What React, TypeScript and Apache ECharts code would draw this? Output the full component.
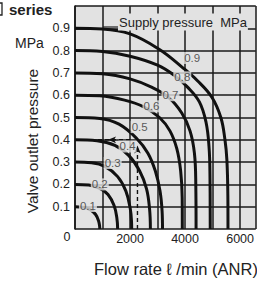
import React, { useEffect, useRef } from "react";
import * as echarts from "echarts";

const xLabelsShown = ["2000", "4000", "6000"];
const yLabelsShown = ["0.1", "0.2", "0.3", "0.4", "0.5", "0.6", "0.7", "0.8", "0.9"];
const supplyNames = ["0.1", "0.2", "0.3", "0.4", "0.5", "0.6", "0.7", "0.8", "0.9"];

const c01 = [[0, 0.1], [300, 0.098], [550, 0.087], [750, 0.065], [860, 0.035], [895, 0.012], [900, 0]];
const c02 = [[0, 0.2], [500, 0.197], [900, 0.182], [1200, 0.155], [1420, 0.105], [1520, 0.05], [1550, 0]];
const c03 = [[0, 0.3], [600, 0.297], [1100, 0.28], [1550, 0.235], [1850, 0.17], [2010, 0.09], [2055, 0.03], [2060, 0]];
const c04 = [[0, 0.4], [800, 0.396], [1450, 0.375], [1950, 0.33], [2350, 0.26], [2600, 0.18], [2710, 0.09], [2740, 0]];
const c05 = [[0, 0.5], [900, 0.496], [1600, 0.47], [2250, 0.405], [2650, 0.34], [2920, 0.26], [3090, 0.17], [3165, 0.08], [3180, 0]];
const c06 = [[0, 0.6], [900, 0.597], [1800, 0.578], [2500, 0.548], [3070, 0.5], [3450, 0.44], [3700, 0.36], [3840, 0.26], [3895, 0.14], [3900, 0]];
const c07 = [[0, 0.7], [1000, 0.696], [2000, 0.673], [2800, 0.635], [3400, 0.59], [3880, 0.52], [4180, 0.44], [4340, 0.34], [4390, 0.2], [4400, 0]];
const c08 = [[0, 0.8], [1000, 0.796], [2000, 0.775], [3000, 0.735], [3600, 0.69], [4100, 0.635], [4520, 0.57], [4760, 0.48], [4870, 0.37], [4905, 0.24], [4915, 0]];
const c09 = [[0, 0.9], [1000, 0.897], [2000, 0.875], [3070, 0.805], [3900, 0.725], [4450, 0.665], [4980, 0.59], [5300, 0.5], [5450, 0.4], [5520, 0.31], [5555, 0.15], [5560, 0]];
const curves = [c01, c02, c03, c04, c05, c06, c07, c08, c09];

const labelPos = [[470, 0.103], [900, 0.2], [1370, 0.296], [1910, 0.37], [2350, 0.457], [2780, 0.55], [3470, 0.6], [3900, 0.68], [4260, 0.767]];

const exampleFlow = [[2270, 0], [2270, 0.375]];
const exampleOutlet = [[2000, 0.4], [600, 0.4]];

export default function App() {
  const ref = useRef<HTMLDivElement>(null);
  useEffect(() => {
    if (!ref.current) return;
    const chart = echarts.init(ref.current, null, { renderer: "svg" });
    const font = "'Liberation Sans', Arial, sans-serif";
    const series: any[] = curves.map((c, i) => ({
      type: "line",
      name: supplyNames[i],
      data: c,
      smooth: 0.4,
      symbol: "none",
      lineStyle: { color: "#111", width: 3 },
      z: 3,
    }));
    series.push({
      type: "scatter",
      data: labelPos.map((p, i) => ({ value: p, name: supplyNames[i] })),
      symbolSize: 0,
      z: 5,
      label: {
        show: true,
        position: "inside",
        formatter: (p: any) => p.name,
        color: "#333",
        fontSize: 11.5,
        fontFamily: font,
        backgroundColor: "#e2e2e2",
        padding: [0, 1],
      },
    });
    series.push({
      type: "line",
      data: [
        { value: exampleFlow[0], symbol: "none" },
        { value: exampleFlow[1], symbol: "arrow", symbolSize: [5, 8] },
      ],
      lineStyle: { color: "#111", width: 1.4, type: [4, 3] },
      itemStyle: { color: "#111" },
      z: 4,
    });
    series.push({
      type: "line",
      data: [
        { value: exampleOutlet[0], symbol: "none" },
        { value: [1200, 0.4], symbol: "arrow", symbolSize: [5, 8], symbolRotate: 90 },
        { value: exampleOutlet[1], symbol: "none" },
      ],
      lineStyle: { color: "#111", width: 1.4, type: [4, 3] },
      itemStyle: { color: "#111" },
      z: 4,
    });
    chart.setOption({
      animation: false,
      grid: { left: 75, top: 6, width: 182, height: 223, containLabel: false, backgroundColor: "#e2e2e2", show: true, borderWidth: 0 },
      xAxis: {
        type: "value",
        min: 0,
        max: 6570,
        interval: 1000,
        axisLine: { show: false },
        axisTick: { show: false },
        splitLine: { show: true, lineStyle: { color: "#1a1a1a", width: 1.5 } },
        axisLabel: {
          formatter: (v: number) => (xLabelsShown.includes(String(v)) ? String(v) : ""),
          color: "#222",
          fontSize: 12.5,
          fontFamily: font,
          margin: 3,
          showMaxLabel: false,
        },
      },
      yAxis: {
        type: "value",
        min: 0,
        max: 1.0,
        interval: 0.1,
        axisLine: { show: true, lineStyle: { color: "#1a1a1a", width: 1.6 } },
        axisTick: { show: false },
        splitLine: { show: true, lineStyle: { color: "#1a1a1a", width: 1.5 } },
        axisLabel: {
          formatter: (v: number) => {
            const s = v.toFixed(1);
            return yLabelsShown.includes(s) ? s : "";
          },
          color: "#222",
          fontSize: 12.5,
          fontFamily: font,
          margin: 5,
        },
      },
      graphic: [
        { type: "rect", shape: { x: -6, y: 3, width: 8, height: 12 }, style: { fill: "none", stroke: "#222", lineWidth: 1.3 } },
        { type: "text", x: 9, y: 2, style: { text: "series", font: `bold 15px ${font}`, fill: "#222" } },
        { type: "text", x: 15, y: 36, style: { text: "MPa", font: `14px ${font}`, fill: "#222" } },
        { type: "text", x: 32, y: 141, rotation: Math.PI / 2, style: { text: "Valve outlet pressure", font: `15.5px ${font}`, fill: "#222", align: "center", verticalAlign: "middle" } },
        { type: "text", x: 67, y: 237, style: { text: "0", font: `12.5px ${font}`, fill: "#222", align: "center", verticalAlign: "middle" } },
        { type: "text", x: 94, y: 269, style: { text: "Flow rate ℓ /min (ANR)", font: `16.5px ${font}`, fill: "#222", verticalAlign: "middle" } },
        { type: "line", shape: { x1: 103, y1: 27, x2: 118, y2: 27 }, style: { stroke: "#222", lineWidth: 1.2 }, z: 10 },
        { type: "text", x: 118, y: 22, z: 10, style: { text: "Supply pressure  MPa", font: `13px ${font}`, fill: "#222", verticalAlign: "middle", backgroundColor: "#e2e2e2", padding: [2, 1] } },
      ],
      series,
    });
    return () => chart.dispose();
  }, []);
  return <div ref={ref} style={{ position: "absolute", left: 0, top: 0, width: 257, height: 282 }} />;
}
